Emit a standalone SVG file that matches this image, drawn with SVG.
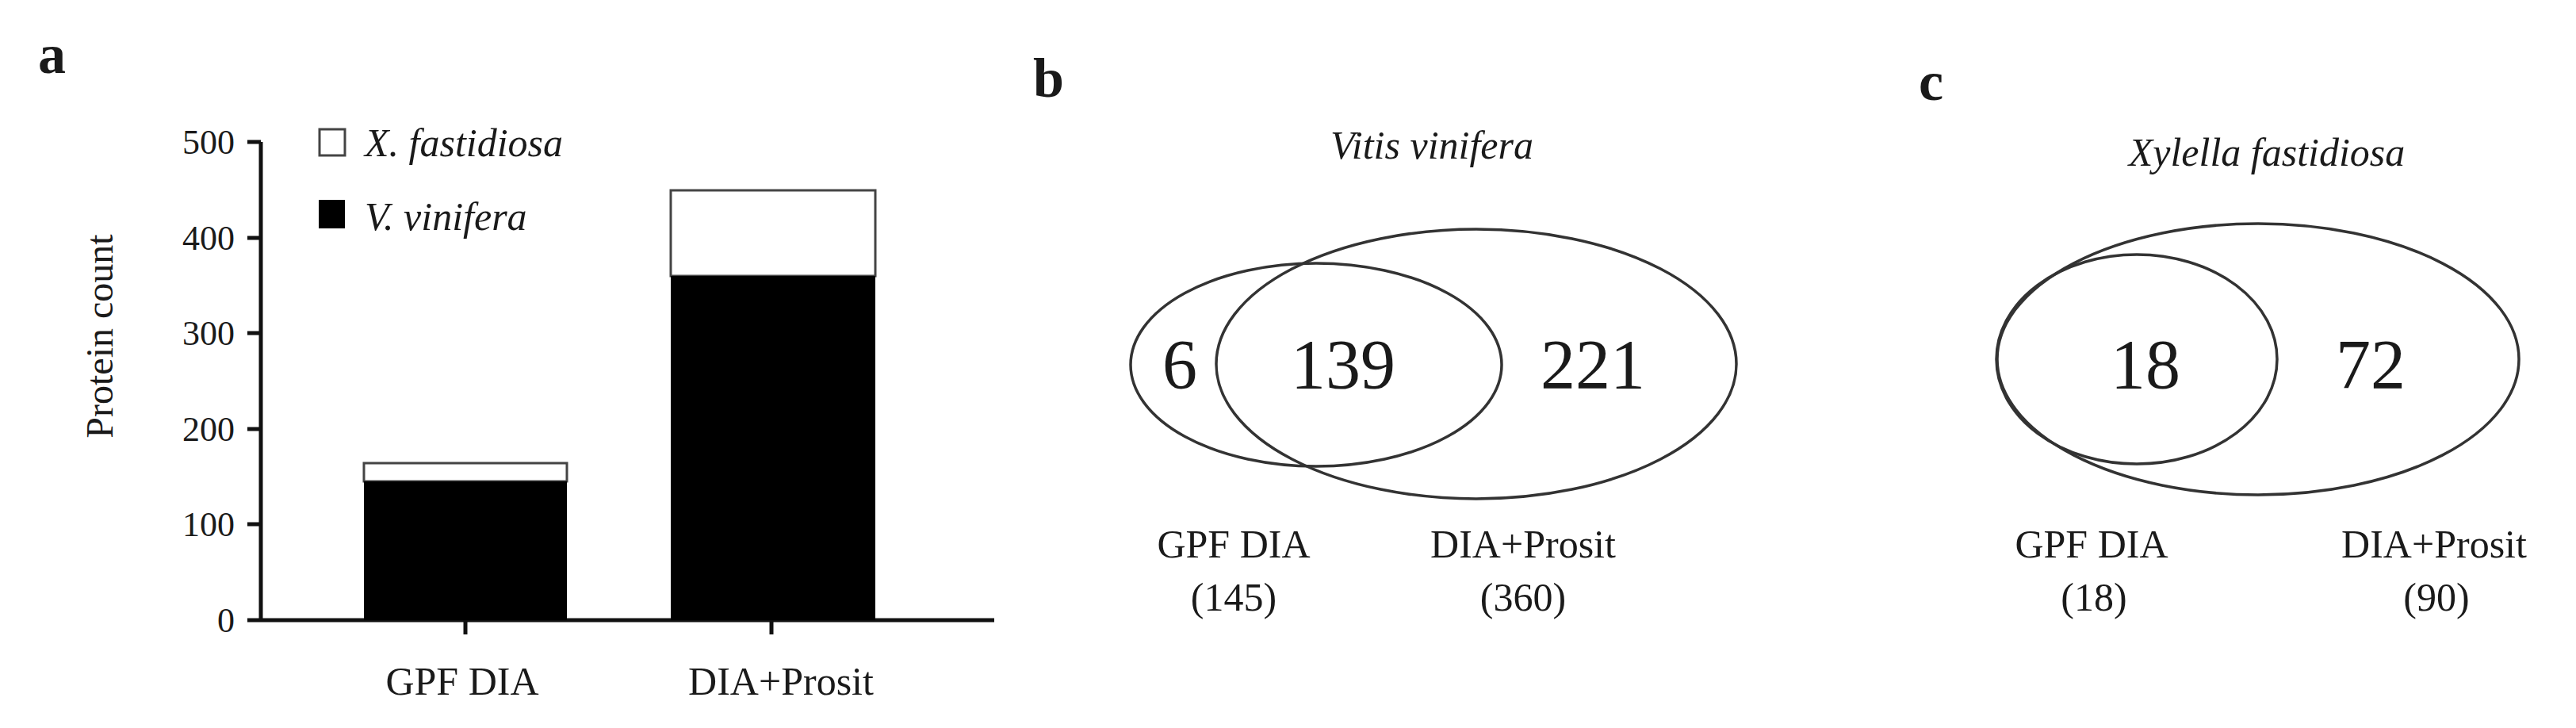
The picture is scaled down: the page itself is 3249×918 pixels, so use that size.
<svg xmlns="http://www.w3.org/2000/svg" width="3249" height="918" viewBox="0 0 3249 918">
<style>
text{font-family:"Liberation Serif","DejaVu Serif",serif;fill:#1a1a1a}
.lbl{font-size:50px;text-anchor:middle}
.tick{font-size:44px;text-anchor:end}
.num{font-size:88px;text-anchor:middle}
.it{font-style:italic}
.pl{font-size:70px;font-weight:bold}
.ax{stroke:#111;stroke-width:5;fill:none}
.ven{stroke:#333;stroke-width:3.5;fill:none}
.bw{fill:#fff;stroke:#444;stroke-width:3}
</style>
<rect width="3249" height="918" fill="#fff"/>
<g id="panel-a">
<text class="pl" x="48" y="92">a</text>
<text font-size="48" text-anchor="middle" transform="translate(142,424) rotate(-90)">Protein count</text>
<path class="ax" d="M329,179V782M312,782H1254M312,179H329M312,300H329M312,420H329M312,541H329M312,661H329M587,782V800M973,782V800"/>
<text class="tick" x="296" y="194">500</text>
<text class="tick" x="296" y="315">400</text>
<text class="tick" x="296" y="435">300</text>
<text class="tick" x="296" y="556">200</text>
<text class="tick" x="296" y="676">100</text>
<text class="tick" x="296" y="797">0</text>
<rect class="bw" x="459" y="584" width="256" height="23"/>
<rect x="459" y="607" width="256" height="175" fill="#000"/>
<rect class="bw" x="846" y="240" width="258" height="108"/>
<rect x="846" y="348" width="258" height="434" fill="#000"/>
<rect class="bw" x="403" y="163" width="32" height="33"/>
<rect x="402" y="252" width="33" height="36" fill="#000"/>
<text class="it" font-size="50" x="460" y="197">X. fastidiosa</text>
<text class="it" font-size="50" x="460" y="290">V. vinifera</text>
<text class="lbl" x="583" y="876">GPF DIA</text>
<text class="lbl" x="985" y="876">DIA+Prosit</text>
</g>
<g id="panel-b">
<text class="pl" x="1303" y="122">b</text>
<text class="it lbl" font-size="56" x="1806" y="200">Vitis vinifera</text>
<ellipse class="ven" cx="1660" cy="460" rx="234" ry="128"/>
<ellipse class="ven" cx="1862" cy="459" rx="328" ry="170"/>
<text class="num" x="1488" y="489">6</text>
<text class="num" x="1694" y="489">139</text>
<text class="num" x="2009" y="489">221</text>
<text class="lbl" x="1556" y="703">GPF DIA</text>
<text class="lbl" x="1556" y="770">(145)</text>
<text class="lbl" x="1921" y="703">DIA+Prosit</text>
<text class="lbl" x="1921" y="770">(360)</text>
</g>
<g id="panel-c">
<text class="pl" x="2420" y="126">c</text>
<text class="it lbl" font-size="56" x="2859" y="209">Xylella fastidiosa</text>
<ellipse class="ven" cx="2695" cy="453" rx="177" ry="132"/>
<ellipse class="ven" cx="2848" cy="453" rx="329" ry="171"/>
<text class="num" x="2706" y="489">18</text>
<text class="num" x="2990" y="489">72</text>
<text class="lbl" x="2638" y="703">GPF DIA</text>
<text class="lbl" x="2641" y="770">(18)</text>
<text class="lbl" x="3070" y="703">DIA+Prosit</text>
<text class="lbl" x="3073" y="770">(90)</text>
</g>
<g id="connectors"/>
</svg>
